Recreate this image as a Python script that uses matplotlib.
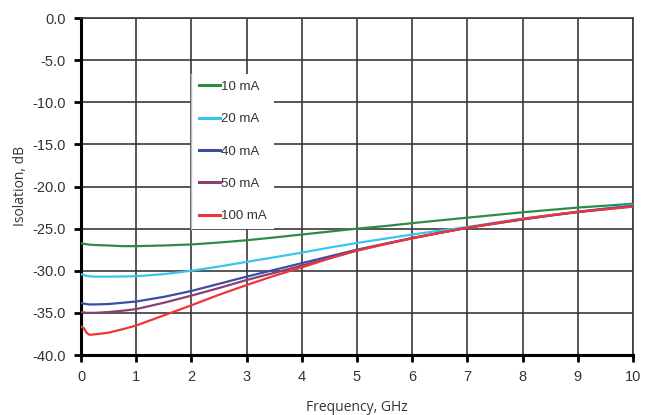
import matplotlib
matplotlib.use("Agg")
import matplotlib.pyplot as plt
from matplotlib.lines import Line2D

plt.rcParams['axes.unicode_minus'] = False
plt.rcParams['font.family'] = ['Liberation Sans', 'DejaVu Sans']

# frequency points, GHz
freq = [0, 0.05, 0.1, 0.15, 0.25, 0.5, 0.75, 1, 1.5, 2, 2.5, 3, 3.5, 4, 4.5,
        5, 5.5, 6, 6.5, 7, 7.5, 8, 8.5, 9, 9.5, 10]

# isolation in dB for each bias current
iso_10 = [-26.75, -26.8, -26.85, -26.9, -26.95, -27.0, -27.08, -27.08, -27.0, -26.88,
          -26.65, -26.38, -26.05, -25.7, -25.35, -25.0, -24.7, -24.35, -24.02, -23.7,
          -23.38, -23.06, -22.78, -22.5, -22.28, -22.05]
iso_20 = [-30.4, -30.5, -30.6, -30.65, -30.7, -30.7, -30.68, -30.65, -30.4, -30.0,
          -29.5, -28.95, -28.4, -27.85, -27.25, -26.7, -26.2, -25.7, -25.25, -24.8,
          -24.3, -23.8, -23.4, -23.0, -22.6, -22.2]
iso_40 = [-33.8, -33.9, -33.95, -34.0, -34.0, -33.95, -33.8, -33.65, -33.1, -32.4,
          -31.55, -30.7, -29.9, -29.1, -28.3, -27.5, -26.8, -26.1, -25.5, -24.9,
          -24.4, -23.9, -23.45, -23.0, -22.65, -22.3]
iso_50 = [-34.9, -34.95, -35.0, -35.0, -35.0, -34.9, -34.75, -34.55, -33.8, -32.95,
          -32.05, -31.1, -30.25, -29.4, -28.5, -27.6, -26.85, -26.15, -25.5, -24.9,
          -24.4, -23.9, -23.45, -23.05, -22.7, -22.35]
iso_100 = [-36.6, -36.8, -37.35, -37.6, -37.55, -37.35, -36.95, -36.5, -35.3, -34.1,
           -32.85, -31.7, -30.6, -29.6, -28.55, -27.6, -26.85, -26.15, -25.5, -24.9,
           -24.35, -23.85, -23.4, -23.0, -22.7, -22.4]

labels = ["10 mA", "20 mA", "40 mA", "50 mA", "100 mA"]
colors = ["#2e8b45", "#3cc4ee", "#3b4ea3", "#8a3f6e", "#f0343a"]
series = [iso_10, iso_20, iso_40, iso_50, iso_100]

x_ticks = list(range(0, 11))
y_ticks = [-40, -35, -30, -25, -20, -15, -10, -5, 0]

fig = plt.figure(figsize=(6.52, 4.15), dpi=100)
ax = fig.add_axes([81/652, 1-355/415, 552/652, 337/415])

for vals, c in zip(series, colors):
    ax.plot(freq, vals, color=c, lw=1.6, zorder=3)

ax.set_xlim(0, 10)
ax.set_ylim(-40, 0)
ax.set_xticks(x_ticks)
ax.set_yticks(y_ticks)
ax.set_yticklabels(["%.1f" % v for v in y_ticks])
ax.grid(True, color="#3a3a3a", lw=1.2, zorder=1)
ax.set_axisbelow(True)

for s in ["top", "right"]:
    ax.spines[s].set_color("#3a3a3a")
    ax.spines[s].set_linewidth(1.2)
for s in ["left", "bottom"]:
    ax.spines[s].set_color("black")
    ax.spines[s].set_linewidth(2.2)

ax.tick_params(direction="out", length=5, width=2, color="black",
               labelsize=10.5, labelcolor="#333333", pad=6)

ax.set_xlabel("Frequency, GHz", fontsize=10, family="Open Sans", color="#333333", labelpad=11)
ax.set_ylabel("Isolation, dB", fontsize=10, family="Open Sans", color="#333333", labelpad=3)

handles = [Line2D([], [], color=c, lw=2.2) for c in colors]
leg = ax.legend(handles, labels, loc="upper left",
                bbox_to_anchor=((191.5-81)/552, (355-73.5)/337),
                borderaxespad=0, fontsize=9.5, handlelength=1.6, handletextpad=0.05,
                labelspacing=1.52, borderpad=0.55, frameon=True, fancybox=False)
leg.get_frame().set_facecolor("white")
leg.get_frame().set_edgecolor("none")
leg.get_frame().set_alpha(1)
for t in leg.get_texts():
    t.set_color("#333333")

fig.canvas.draw()
bb = leg.get_window_extent().transformed(ax.transAxes.inverted())
ax.axvline(2, ymin=bb.y0, ymax=bb.y1, color="#b8b8b8", lw=1.0, zorder=6)

fig.savefig("out.png", dpi=100)
